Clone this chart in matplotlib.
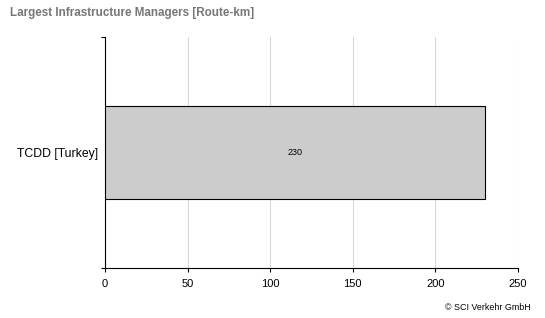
import matplotlib.pyplot as plt

managers = ["TCDD [Turkey]"]
route_km = [230]
x_ticks = [0, 50, 100, 150, 200, 250]

plt.rcParams['font.family'] = ['Liberation Sans', 'DejaVu Sans']

fig = plt.figure(figsize=(5.45, 3.18), dpi=100)
ax = fig.add_axes([0.1927, 0.1572, 0.7578, 0.7264])

bars = ax.barh(managers, route_km, height=0.8, color='#cccccc', edgecolor='black', linewidth=0.8, zorder=3)
for b, v in zip(bars, route_km):
    ax.text(v / 2, b.get_y() + b.get_height() / 2, str(v), ha='center', va='center', fontsize=6.5, zorder=4)

ax.set_xlim(0, 250)
ax.set_ylim(-1, 1)
ax.set_xticks(x_ticks)
ax.tick_params(axis='x', labelsize=8, length=3, width=0.8, pad=5)
ax.tick_params(axis='y', which='major', labelsize=8.8, length=0, pad=5)
ax.set_yticks([-1, 1], minor=True)
ax.tick_params(axis='y', which='minor', length=3, width=0.8)
ax.grid(axis='x', color='#d9d9d9', linewidth=0.8, zorder=0)
for s in ['top', 'right']:
    ax.spines[s].set_visible(False)
for s in ['left', 'bottom']:
    ax.spines[s].set_linewidth(0.8)

fig.text(10 / 545, 1 - 13 / 318, "Largest Infrastructure Managers [Route-km]", fontsize=8.4,
         fontweight='bold', color='#777777', ha='left', va='center')
fig.text(531 / 545, 1 - 308 / 318, "\u00a9 SCI Verkehr GmbH", fontsize=6.4, ha='right', va='center')

fig.savefig("out.png", dpi=100)
